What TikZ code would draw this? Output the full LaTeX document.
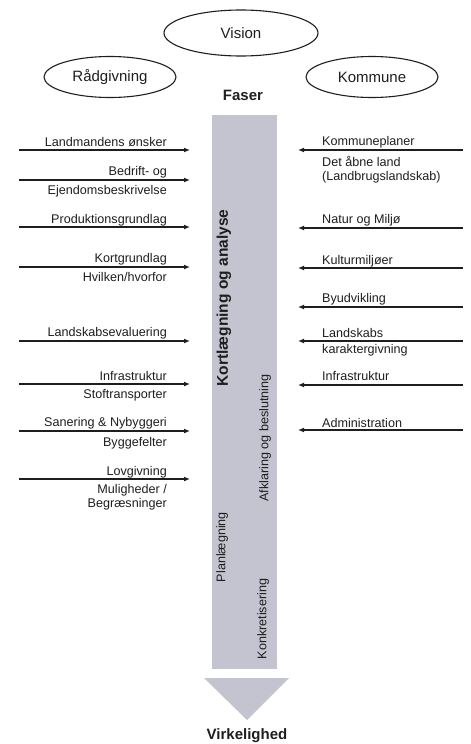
\documentclass[tikz,border=0pt]{standalone}
\usepackage{fontspec}
\setmainfont{Liberation Sans}
\usetikzlibrary{shapes.geometric,arrows.meta}
\definecolor{barfill}{RGB}{196,196,208}
\definecolor{ink}{RGB}{30,30,30}
\tikzset{
  oval/.style={ellipse, draw=ink, line width=1.1pt, inner sep=0pt, font=\fontsize{15}{17}\selectfont, text=ink},
  conn/.style={draw=ink, line width=1.2pt, -{Latex[length=6pt,width=5pt]}},
  lab/.style={inner sep=0pt, font=\fontsize{12.6}{14.5}\selectfont, text=ink},
  labL/.style={lab, align=right},
  labR/.style={lab, align=left},
  big/.style={inner sep=0pt, font=\fontsize{15}{17}\selectfont\bfseries, text=ink},
  phase/.style={inner sep=0pt, rotate=90, font=\fontsize{12.6}{14.5}\selectfont, text=ink}
}
\begin{document}
\begin{tikzpicture}[x=1pt,y=-1pt]
\useasboundingbox (0,0) rectangle (471,744);
% ellipses
\node[oval, minimum width=154pt, minimum height=46pt] (vision) at (241,33) {Vision};
\node[oval, minimum width=132pt, minimum height=41pt] (raad) at (110,77) {Rådgivning};
\node[oval, minimum width=132pt, minimum height=41pt] (komm) at (372,77) {Kommune};
\node[big] (faser) at (243,95) {Faser};
% bar and arrow head
\fill[barfill] (212,115) rectangle (277,669);
\fill[barfill] (204,678) -- (289,678) -- (247,720) -- cycle;
\node[big] (virk) at (247,736) {Virkelighed};
% phase labels
\node[phase, font=\fontsize{15.5}{17}\selectfont\bfseries] (kort) at (224,298) {Kortlægning og analyse};
\node[phase] (afkl) at (265,438) {Afklaring og beslutning};
\node[phase] (plan) at (222,547) {Planlægning};
\node[phase] (konk) at (263,619) {Konkretisering};
% left arrows
\foreach \n/\y in {l1/150,l2/180,l3/227,l4/267,l5/341,l6/384,l7/431,l8/479}{
  \coordinate (\n s) at (19,\y);
  \coordinate (\n e) at (190,\y);
  \draw[conn] (\n s) -- (\n e);
}
% left labels (above)
\node[labL, anchor=base east] (t1) at (167,146) {Landmandens ønsker};
\node[labL, anchor=base east] (t2) at (167,175) {Bedrift- og};
\node[labL, anchor=base east] (t3) at (167,223) {Produktionsgrundlag};
\node[labL, anchor=base east] (t4) at (167,262) {Kortgrundlag};
\node[labL, anchor=base east] (t5) at (167,336) {Landskabsevaluering};
\node[labL, anchor=base east] (t6) at (167,380) {Infrastruktur};
\node[labL, anchor=base east] (t7) at (167,426) {Sanering \& Nybyggeri};
\node[labL, anchor=base east] (t8) at (167,475) {Lovgivning};
% left labels (below)
\node[labL, anchor=north east] (b2) at (167,185) {Ejendomsbeskrivelse};
\node[labL, anchor=north east] (b4) at (167,272) {Hvilken/hvorfor};
\node[labL, anchor=north east] (b6) at (167,389) {Stoftransporter};
\node[labL, anchor=north east] (b7) at (167,437) {Byggefelter};
\node[labL, anchor=north east] (b8) at (167,484) {Muligheder /\\Begræsninger};
% right arrows
\foreach \n/\y in {r1/150,r2/228,r3/268,r4/307,r5/341,r6/385,r7/430}{
  \coordinate (\n s) at (463,\y);
  \coordinate (\n e) at (298,\y);
  \draw[conn] (\n s) -- (\n e);
}
% right labels
\node[labR, anchor=base west] (s1) at (322,145) {Kommuneplaner};
\node[labR, anchor=north west] (u1) at (322,156) {Det åbne land\\(Landbrugslandskab)};
\node[labR, anchor=base west] (s2) at (322,223) {Natur og Miljø};
\node[labR, anchor=base west] (s3) at (322,264) {Kulturmiljøer};
\node[labR, anchor=base west] (s4) at (322,302) {Byudvikling};
\node[labR, anchor=base west] (s5) at (322,337) {Landskabs};
\node[labR, anchor=north west] (u5) at (322,344) {karaktergivning};
\node[labR, anchor=base west] (s6) at (322,380) {Infrastruktur};
\node[labR, anchor=base west] (s7) at (322,427) {Administration};
\end{tikzpicture}
\end{document}
